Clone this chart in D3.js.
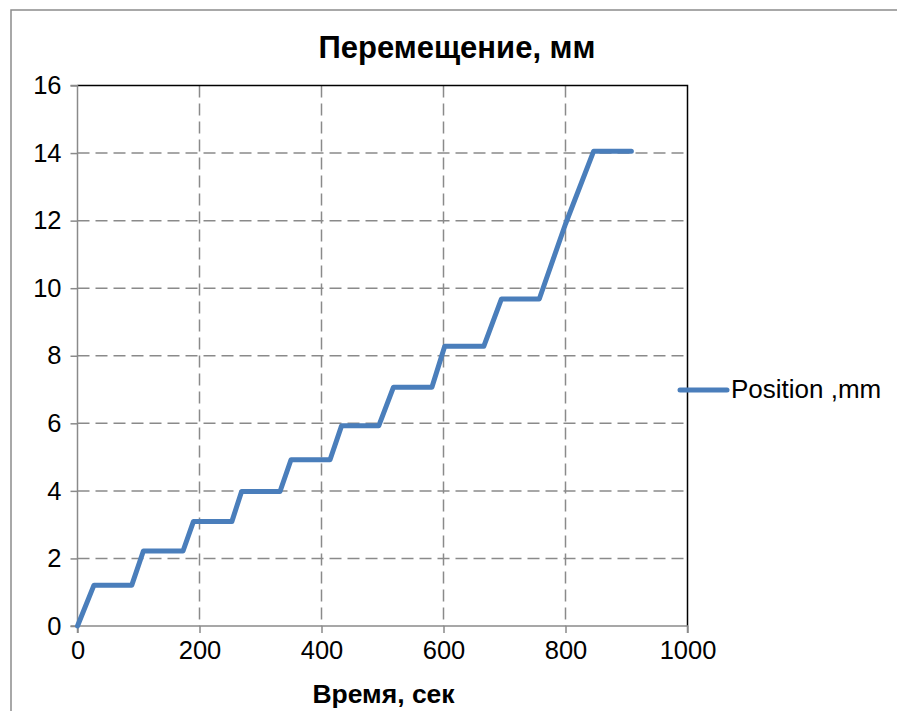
<!DOCTYPE html>
<html>
<head>
<meta charset="utf-8">
<script src="https://cdn.jsdelivr.net/npm/d3@7"></script>
<style>
  html, body { margin: 0; padding: 0; background: #fff; }
  svg { display: block; font-family: "Liberation Sans", Arial, sans-serif; }
</style>
</head>
<body>
<svg id="chart" width="897" height="711"></svg>
<script>
// ---- data ----
const timeSec = [0, 27, 89, 108, 173, 190, 253, 269, 332, 350, 414, 433, 494, 518, 581, 602, 666, 695, 757, 800, 846, 908];
const positionMm = [0, 1.21, 1.21, 2.22, 2.22, 3.09, 3.09, 3.98, 3.98, 4.92, 4.92, 5.93, 5.93, 7.07, 7.07, 8.28, 8.28, 9.68, 9.68, 11.9, 14.05, 14.05];
const xTicks = [0, 200, 400, 600, 800, 1000];
const yTicks = [0, 2, 4, 6, 8, 10, 12, 14, 16];
const chartTitle = "Перемещение, мм";
const xTitle = "Время, сек";
const seriesName = "Position ,mm";

(function () {
const svg = d3.select("#chart");
const pl = 77.5, pr = 687.5, pt = 85.5, pb = 626;
const x = d3.scaleLinear().domain([0, 1000]).range([pl, pr]);
const y = d3.scaleLinear().domain([0, 16]).range([pb, pt]);
const gridColor = "#8a8a8a";
const blue = "#4a7ebb";

// outer chart frame
svg.append("rect").attr("x", 11).attr("y", 10).attr("width", 1000).attr("height", 1000)
  .attr("fill", "none").attr("stroke", "#8c8c8c").attr("stroke-width", 1.5);

// gridlines
svg.append("g").selectAll("line").data(xTicks.filter(d => d > 0 && d < 1000)).join("line")
  .attr("x1", d => x(d)).attr("x2", d => x(d)).attr("y1", pt).attr("y2", pb)
  .attr("stroke", gridColor).attr("stroke-width", 1.5).attr("stroke-dasharray", "12,6");
svg.append("g").selectAll("line").data(yTicks.filter(d => d > 0 && d < 16)).join("line")
  .attr("x1", pl).attr("x2", pr).attr("y1", d => y(d)).attr("y2", d => y(d))
  .attr("stroke", gridColor).attr("stroke-width", 1.5).attr("stroke-dasharray", "12,6");

// plot area border (top/right black)
svg.append("path")
  .attr("d", `M${pl},${pt}H${pr}V${pb}`)
  .attr("fill", "none").attr("stroke", "#000").attr("stroke-width", 1.5);

// axes
const xAxis = d3.axisBottom(x).tickValues(xTicks).tickSize(7).tickPadding(8).tickFormat(d3.format("d"));
const yAxis = d3.axisLeft(y).tickValues(yTicks).tickSize(7).tickPadding(9).tickFormat(d3.format("d"));
const gx = svg.append("g").attr("transform", `translate(0,${pb})`).call(xAxis);
const gy = svg.append("g").attr("transform", `translate(${pl},0)`).call(yAxis);
[gx, gy].forEach(g => {
  g.select(".domain").attr("stroke", gridColor).attr("stroke-width", 1.5);
  g.selectAll(".tick line").attr("stroke", gridColor).attr("stroke-width", 1.5);
  g.selectAll(".tick text").attr("fill", "#000").attr("font-size", 25.5)
    .attr("font-family", "'Liberation Sans', Arial, sans-serif");
});
gx.select(".domain").attr("d", `M${pl},7V0H${pr}V7`);
gy.select(".domain").attr("d", `M-7,${pt}H0V${pb}H-7`);

// line
const line = d3.line().x((d, i) => x(timeSec[i])).y((d, i) => y(positionMm[i]));
svg.append("path").datum(positionMm)
  .attr("d", line)
  .attr("fill", "none").attr("stroke", blue).attr("stroke-width", 5)
  .attr("stroke-linejoin", "round").attr("stroke-linecap", "round");

// titles
svg.append("text").attr("x", 457).attr("y", 58).attr("text-anchor", "middle")
  .attr("font-size", 31).attr("font-weight", "bold").text(chartTitle);
svg.append("text").attr("x", (pl + pr) / 2 + 1).attr("y", 703).attr("text-anchor", "middle")
  .attr("font-size", 26.5).attr("font-weight", "bold").text(xTitle);

// legend
svg.append("line").attr("x1", 680).attr("x2", 727).attr("y1", 390).attr("y2", 390)
  .attr("stroke", blue).attr("stroke-width", 5).attr("stroke-linecap", "round");
svg.append("text").attr("x", 731).attr("y", 398).attr("font-size", 26).text(seriesName);
})();
</script>
</body>
</html>
